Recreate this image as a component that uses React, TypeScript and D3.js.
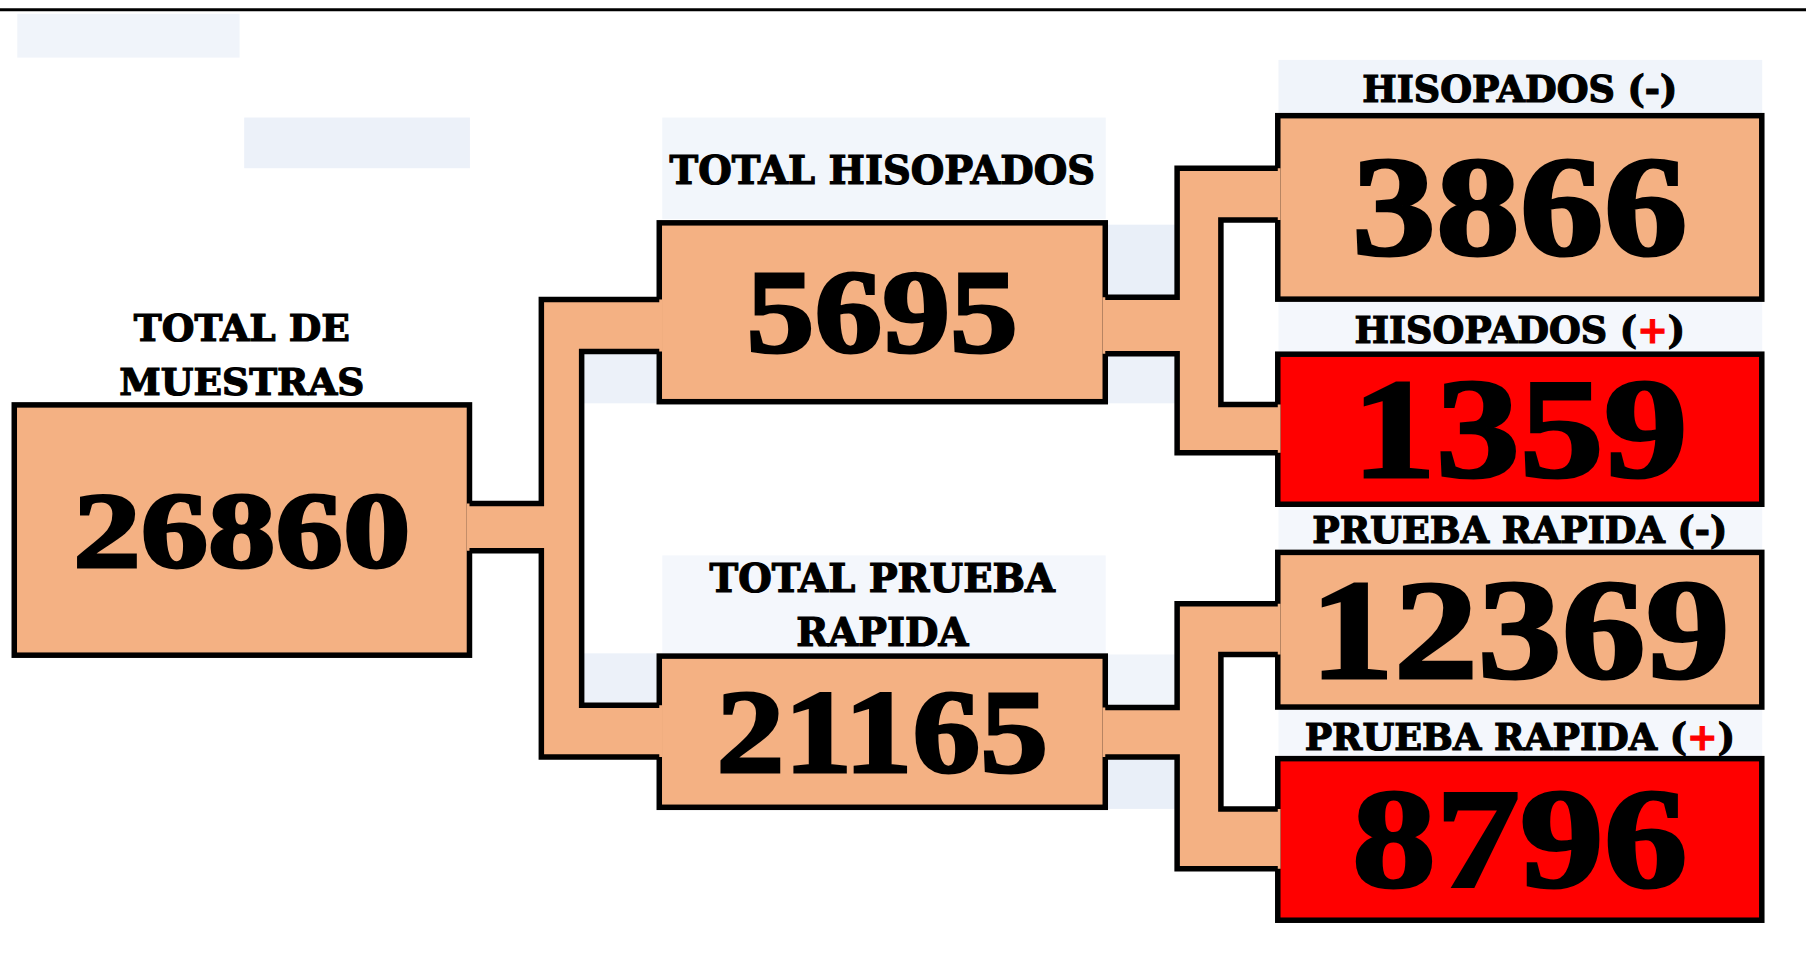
import React from 'react';
import * as d3 from 'd3';

// diagram data
const nodeLabels = [
  ['TOTAL DE', 'MUESTRAS'],
  ['TOTAL HISOPADOS'],
  ['TOTAL PRUEBA', 'RAPIDA'],
  ['HISOPADOS (-)'],
  ['HISOPADOS (+)'],
  ['PRUEBA RAPIDA (-)'],
  ['PRUEBA RAPIDA (+)'],
];
const nodeValues = [26860, 5695, 21165, 3866, 1359, 12369, 8796];
const nodeResults = ['total', 'total', 'total', 'negativo', 'positivo', 'negativo', 'positivo'];
const nodeParents = [-1, 0, 0, 1, 1, 2, 2];

// layout, in units of the 1568 wide reference
const boxes = [
  { x0: 10, x1: 410, y0: 349, y1: 571, labelY: 343 },
  { x0: 570, x1: 962, y0: 191, y1: 351, labelY: 159.5 },
  { x0: 570, x1: 962, y0: 567, y1: 703, labelY: 560.6 },
  { x0: 1107, x1: 1532, y0: 98, y1: 262, labelY: 88.3 },
  { x0: 1107, x1: 1532, y0: 305, y1: 440, labelY: 298 },
  { x0: 1107, x1: 1532, y0: 477, y1: 616, labelY: 471.6 },
  { x0: 1107, x1: 1532, y0: 656, y1: 801, labelY: 650.5 },
];
const forks = [
  { src: 0, y1: 437, y2: 478, xa: 470, xb: 505, top: [260, 305], bot: [612, 657] },
  { src: 1, y1: 258, y2: 307, xa: 1022, xb: 1060, top: [146, 191], bot: [351, 393] },
  { src: 2, y1: 614, y2: 657, xa: 1022, xb: 1060, top: [524, 568], bot: [702, 754] },
];
const watermark = [
  [15, 12, 208, 50, '#F0F4FA'],
  [212, 102, 408, 146, '#ECF1F9'],
  [575, 102, 960, 190, '#F2F6FB'],
  [1110, 52, 1530, 98, '#F0F4FA'],
  [1110, 262, 1530, 305, '#F4F7FC'],
  [575, 482, 960, 567, '#F4F7FC'],
  [1110, 440, 1530, 478, '#F4F7FC'],
  [1110, 616, 1530, 656, '#F4F7FC'],
  [505, 305, 570, 350, '#ECF1F9'],
  [962, 195, 1022, 258, '#E9EFF8'],
  [962, 307, 1022, 350, '#ECF1F9'],
  [505, 567, 570, 612, '#ECF1F9'],
  [962, 568, 1022, 614, '#F0F4FA'],
  [962, 657, 1022, 702, '#E9EFF8'],
];

const SALMON = '#F4B183';
const RED = '#FF0000';

export default function App() {
  const W = 1806;
  const H = 961;
  const x = d3.scaleLinear().domain([0, 1568]).range([0, W]);
  const y = d3.scaleLinear().domain([0, 834]).range([0, H]);
  const bw = 5.5;

  const depth = (i: number): number => (nodeParents[i] < 0 ? 0 : depth(nodeParents[i]) + 1);
  const digitSize = [108, 118, 141];
  const digitStretch = [1.25, 1.15, 1.19];
  const labelSize = [37.5, 38.5, 36.5];
  const line = d3.line();

  const labelText = (s: string) => {
    const m = s.match(/^(.*\()\+(\))$/);
    if (!m) return s;
    return (
      <>
        {m[1]}
        <tspan fill={RED} stroke={RED}>+</tspan>
        {m[2]}
      </>
    );
  };

  return (
    <svg
      width={W}
      height={H}
      style={{ position: 'absolute', left: 0, top: 0, background: '#fff' }}
    >
      {watermark.map((w, i) => (
        <rect
          key={'w' + i}
          x={x(w[0] as number)}
          y={y(w[1] as number)}
          width={x(w[2] as number) - x(w[0] as number)}
          height={y(w[3] as number) - y(w[1] as number)}
          fill={w[4] as string}
        />
      ))}
      <line x1={0} x2={W} y1={y(8.4)} y2={y(8.4)} stroke="#000" strokeWidth={3} />

      {boxes.map((b, i) => (
        <rect
          key={'b' + i}
          x={x(b.x0) + bw / 2}
          y={y(b.y0) + bw / 2}
          width={x(b.x1) - x(b.x0) - bw}
          height={y(b.y1) - y(b.y0) - bw}
          fill={nodeResults[i] === 'positivo' ? RED : SALMON}
          stroke="#000"
          strokeWidth={bw}
        />
      ))}

      {forks.map((f, i) => {
        const kids = nodeParents.map((p, k) => (p === f.src ? k : -1)).filter((k) => k >= 0);
        const xs = x(boxes[f.src].x1);
        const xt = x(boxes[kids[0]].x0);
        const xa = x(f.xa);
        const xb = x(f.xb);
        const y1 = y(f.y1);
        const y2 = y(f.y2);
        const [t1, t2] = f.top.map(y);
        const [b1, b2] = f.bot.map(y);
        const fill =
          line([
            [xs - bw, y1], [xa, y1], [xa, t1], [xt + bw, t1], [xt + bw, t2], [xb, t2],
            [xb, b1], [xt + bw, b1], [xt + bw, b2], [xa, b2], [xa, y2], [xs - bw, y2],
          ]) + 'Z';
        const edges = [
          [[xs, y1], [xa, y1], [xa, t1], [xt, t1]],
          [[xt, t2], [xb, t2], [xb, b1], [xt, b1]],
          [[xt, b2], [xa, b2], [xa, y2], [xs, y2]],
        ] as [number, number][][];
        return (
          <g key={'f' + i}>
            <path d={fill} fill={SALMON} />
            {edges.map((e, k) => (
              <path key={k} d={line(e) || ''} fill="none" stroke="#000" strokeWidth={bw} strokeLinecap="square" />
            ))}
          </g>
        );
      })}

      {nodeLabels.map((lines, i) => {
        const b = boxes[i];
        const d = depth(i);
        const cx = x((b.x0 + b.x1) / 2);
        return lines.map((s, k) => (
          <text
            key={'l' + i + k}
            x={cx}
            y={y(b.labelY - (lines.length - 1 - k) * 47)}
            textAnchor="middle"
            fontFamily="'DejaVu Serif', serif"
            fontWeight="bold"
            fontSize={labelSize[d]}
            fill="#000"
            stroke="#000"
            strokeWidth={1.2}
          >
            {labelText(s)}
          </text>
        ));
      })}

      {nodeValues.map((v, i) => {
        const b = boxes[i];
        const d = depth(i);
        const cx = x((b.x0 + b.x1) / 2);
        const cy = y((b.y0 + b.y1) / 2);
        return (
          <text
            key={'v' + i}
            transform={`translate(${cx},${cy + digitSize[d] * 0.34}) scale(${digitStretch[d]},1)`}
            textAnchor="middle"
            fontFamily="'Liberation Serif', serif"
            fontWeight="bold"
            fontSize={digitSize[d]}
            fill="#000"
            stroke="#000"
            strokeWidth={3}
          >
            {v}
          </text>
        );
      })}
    </svg>
  );
}
